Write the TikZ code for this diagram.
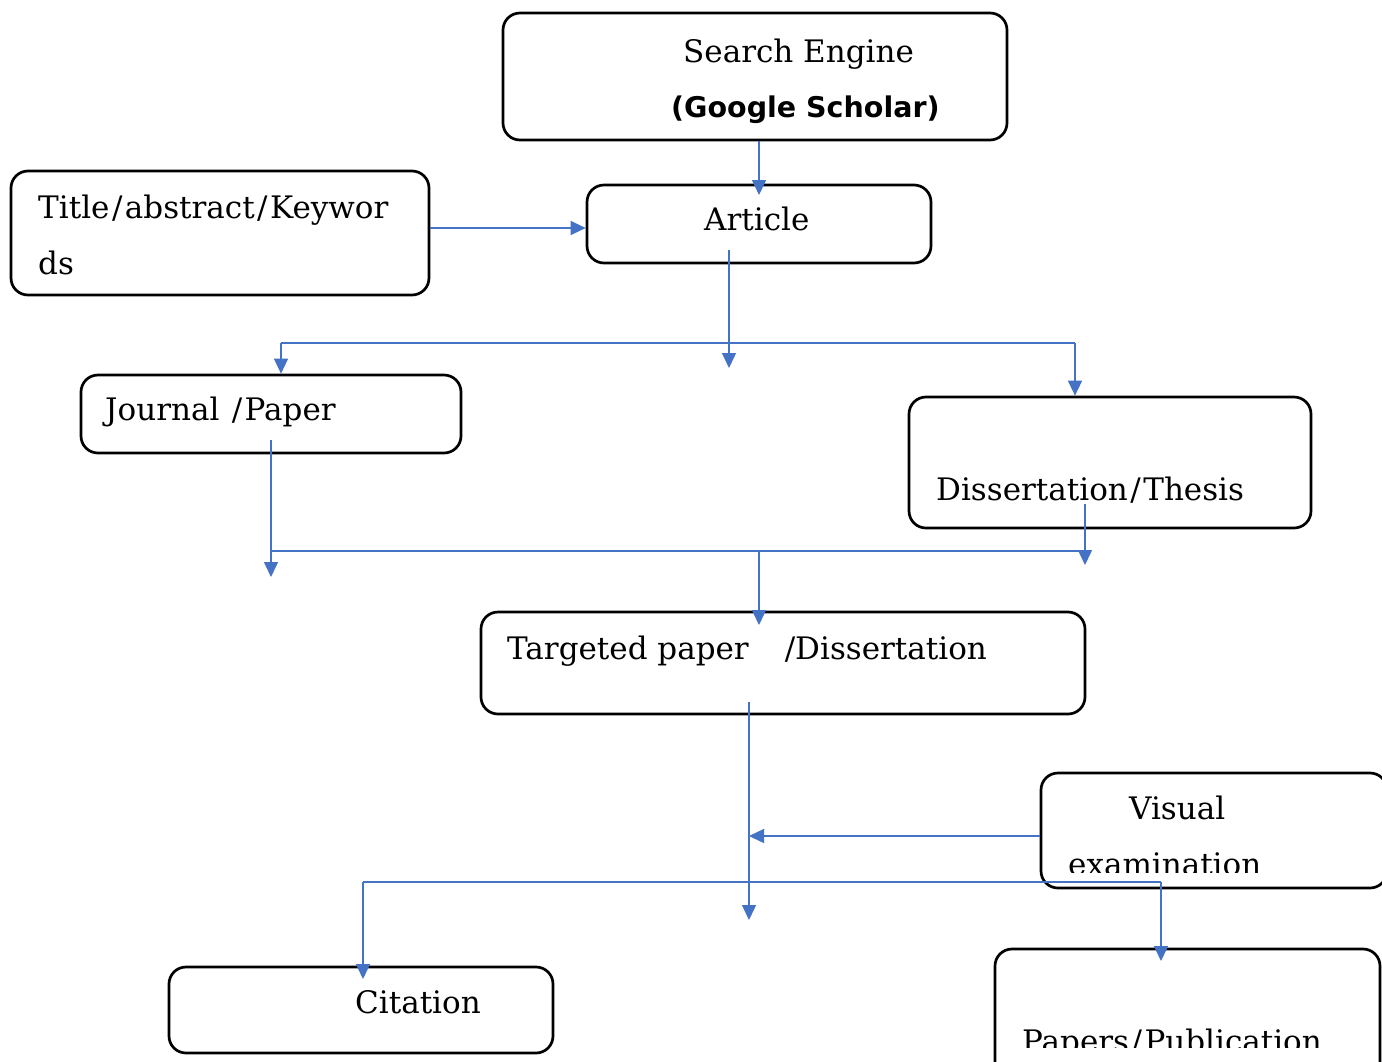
\documentclass[tikz,border=0pt]{standalone}
\usepackage{fontspec}
\setmainfont{DejaVu Serif}
\newfontfamily\boldsans{DejaVu Sans}
\usetikzlibrary{arrows.meta}
\definecolor{lineblue}{HTML}{4472C4}
\newcommand{\myslash}{\kern2.5pt/\kern2.5pt}
\tikzset{
  box/.style={draw=black, line width=2.7pt, rounded corners=17pt, fill=white, inner sep=0pt},
  lbl/.style={anchor=base west, inner sep=0pt, font=\fontsize{31}{36}\selectfont},
  conn/.style={draw=lineblue, line width=1.4pt},
  arr/.style={conn, -{Triangle[length=15pt,width=14pt]}}
}
\begin{document}
\begin{tikzpicture}[x=1pt,y=-1pt]
\clip (0,0) rectangle (1382,1061);
\fill[white] (0,0) rectangle (1382,1061);

% boxes
\node[box, minimum width=504pt, minimum height=127pt] (search) at (755,76.5) {};
\node[box, minimum width=344pt, minimum height=78pt] (article) at (759,224) {};
\node[box, minimum width=418pt, minimum height=124pt] (title) at (220,233) {};
\node[box, minimum width=380pt, minimum height=78pt] (journal) at (271,414) {};
\node[box, minimum width=402pt, minimum height=131pt] (diss) at (1110,462.5) {};
\node[box, minimum width=604pt, minimum height=102pt] (target) at (783,663) {};
\node[box, minimum width=346pt, minimum height=115pt] (visual) at (1214,830.5) {};
\node[box, minimum width=384pt, minimum height=86pt] (citation) at (361,1010) {};
\node[box, minimum width=385pt, minimum height=140pt] (papers) at (1187.5,1019) {};

% texts
\node[lbl] (tsearch) at (683,62) {Search Engine};
\node[lbl, font=\boldsans\bfseries\fontsize{28.5}{34}\selectfont] (tgoogle) at (671,117) {(Google Scholar)};
\node[lbl] (tarticle) at (704,230) {Article};
\node[lbl] (ttitle1) at (38,218) {Title\myslash abstract\myslash Keywor};
\node[lbl] (ttitle2) at (38,274) {ds};
\node[lbl] (tjournal) at (105,420) {Journal \myslash Paper};
\node[lbl] (tdiss) at (936,500) {Dissertation\myslash Thesis};
\node[lbl] (ttarget) at (507,659) {Targeted paper\hspace{36pt}/Dissertation};
\node[lbl] (tvisual) at (1129,819) {Visual};
\begin{scope}
\clip (1045,840) rectangle (1380,872);
\node[lbl] (texam) at (1068,875) {examination};
\end{scope}
\node[lbl] (tcitation) at (355,1013) {Citation};
\begin{scope}
\clip (998,1000) rectangle (1378,1047);
\node[lbl] (tpapers) at (1022,1052) {Papers\myslash Publication};
\end{scope}

% connector points
\coordinate (a1) at (759,195);
\coordinate (a2) at (729,250);
\coordinate (a3) at (729,368);
\coordinate (s1) at (281,343);
\coordinate (s2) at (1075,343);
\coordinate (j1) at (271,440);
\coordinate (j2) at (271,577);
\coordinate (d1) at (1085,504);
\coordinate (d2) at (1085,565);
\coordinate (m1) at (759,551);
\coordinate (m2) at (759,625);
\coordinate (t1) at (749,702);
\coordinate (t2) at (749,920);
\coordinate (v1) at (749,836);
\coordinate (h1) at (363,882);
\coordinate (h2) at (1161,882);
\coordinate (c1) at (363,979);
\coordinate (p1) at (1161,961);

% connectors
\draw[arr] (search.south -| a1) -- (a1);
\draw[arr] (title.east |- 0,228) -- (article.west |- 0,228);
\draw[arr] (a2) -- (a3);
\draw[conn] (s1) -- (s2);
\draw[arr] (s1) -- (s1 |- journal.north);
\draw[arr] (s2) -- (s2 |- diss.north);
\draw[arr] (j1) -- (j2);
\draw[conn] (j1 |- m1) -- (d1 |- m1);
\draw[arr] (d1) -- (d2);
\draw[arr] (m1) -- (m2);
\draw[arr] (t1) -- (t2);
\draw[arr] (visual.west |- v1) -- (v1);
\draw[conn] (h1) -- (h2);
\draw[arr] (h1) -- (c1);
\draw[arr] (h2) -- (p1);
\end{tikzpicture}
\end{document}
